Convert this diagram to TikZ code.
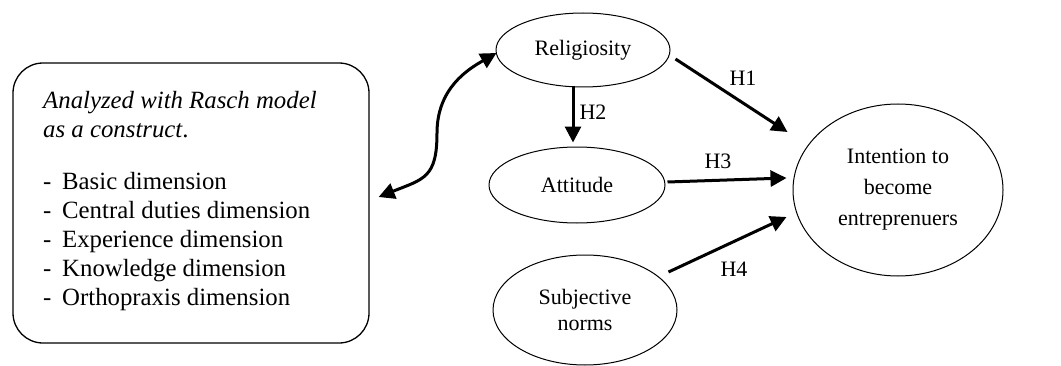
\documentclass[tikz,border=0pt]{standalone}
\usepackage{fontspec}
\setmainfont{Liberation Serif}
\usetikzlibrary{shapes.geometric,arrows.meta}
\newcommand\lstitem[1]{\makebox[19pt][l]{-}#1}
\begin{document}
\begin{tikzpicture}[x=1pt,y=1pt,
  ell/.style={draw, ellipse, line width=1pt, inner sep=0pt, align=center, font=\fontsize{22}{26}\selectfont},
  arr/.style={line width=3pt, -{Triangle[length=16pt,width=16pt]}},
  darr/.style={line width=3pt, {Triangle[length=16pt,width=16pt]}-{Triangle[length=16pt,width=16pt]}},
  lab/.style={inner sep=0pt, font=\fontsize{22}{26}\selectfont}]
\useasboundingbox (0,0) rectangle (1061,365);
\node[draw, rounded corners=30pt, line width=1.3pt, minimum width=356pt, minimum height=280pt, inner sep=0pt] (box) at (191,162) {};
\node[anchor=north west, align=left, inner sep=0pt, font=\fontsize{24.8}{29}\selectfont] (boxtext) at (43,274)
  {\textit{Analyzed with Rasch model}\\
   \textit{as a construct}.\\[23pt]
   \lstitem{Basic dimension}\\
   \lstitem{Central duties dimension}\\
   \lstitem{Experience dimension}\\
   \lstitem{Knowledge dimension}\\
   \lstitem{Orthopraxis dimension}};
\node[ell, minimum width=174pt, minimum height=74pt] (rel) at (583,315) {Religiosity};
\node[ell, minimum width=176pt, minimum height=76pt] (att) at (577,180) {Attitude};
\node[ell, minimum width=184pt, minimum height=110pt] (subj) at (585,55) {Subjective\\norms};
\node[ell, minimum width=210pt, minimum height=172pt, font=\fontsize{22}{31}\selectfont] (int) at (898,175) {Intention to\\become\\entreprenuers};
\draw[arr] ([shift={(5,-9)}]rel.east) -- ([shift={(-5,58)}]int.west);
\draw[arr] ([shift={(-10,1)}]rel.south) -- ([shift={(-4,4)}]att.north);
\draw[arr] ([shift={(2,3)}]att.east) -- ([shift={(-6,12)}]int.west);
\draw[arr] ([shift={(-9,38)}]subj.east) -- ([shift={(-6,-27)}]int.west);
\draw[darr] ([shift={(9,6)}]box.east) .. controls +(45,18) and +(0,-45) .. (437,232)
  .. controls +(0,45) and +(-28,-16) .. ([shift={(1,-3)}]rel.west);
\node[lab] (h1) at (743,287) {H1};
\node[lab] (h2) at (593,253) {H2};
\node[lab] (h3) at (718,204) {H3};
\node[lab] (h4) at (734,96) {H4};
\end{tikzpicture}
\end{document}
